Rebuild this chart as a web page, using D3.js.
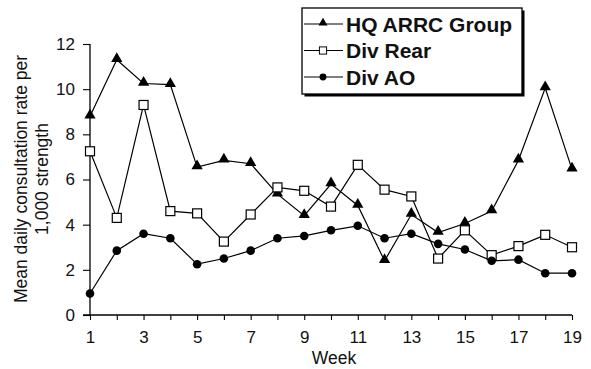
<!DOCTYPE html>
<html>
<head>
<meta charset="utf-8">
<script src="https://cdn.jsdelivr.net/npm/d3@7"></script>
<style>
  html, body { margin: 0; padding: 0; background: #fff; }
  svg { display: block; font-family: "Liberation Sans", Arial, sans-serif; }
</style>
</head>
<body>
<div id="chart"></div>
<script>
const weeks = [1, 2, 3, 4, 5, 6, 7, 8, 9, 10, 11, 12, 13, 14, 15, 16, 17, 18, 19];
const weekTicks = [1, 3, 5, 7, 9, 11, 13, 15, 17, 19];
const yTicks = [0, 2, 4, 6, 8, 10, 12];

const hqArrc = [8.8, 11.3, 10.25, 10.2, 6.55, 6.85, 6.7, 5.35, 4.4, 5.8, 4.85, 2.4, 4.45, 3.65, 4.05, 4.6, 6.85, 10.05, 6.45];
const divRear = [7.25, 4.3, 9.3, 4.6, 4.5, 3.25, 4.45, 5.65, 5.5, 4.8, 6.65, 5.55, 5.25, 2.5, 3.75, 2.65, 3.05, 3.55, 3.0];
const divAO = [0.95, 2.85, 3.6, 3.4, 2.25, 2.5, 2.85, 3.4, 3.5, 3.75, 3.95, 3.4, 3.6, 3.15, 2.9, 2.4, 2.45, 1.85, 1.85];

const seriesNames = ['HQ ARRC Group', 'Div Rear', 'Div AO'];

const width = 591, height = 369;
const margin = { top: 44, right: 19, bottom: 54, left: 90 };

const svg = d3.select('#chart').append('svg')
  .attr('width', width)
  .attr('height', height);

const x = d3.scaleLinear().domain([1, 19]).range([margin.left, width - margin.right]);
const y = d3.scaleLinear().domain([0, 12]).range([height - margin.bottom, margin.top]);

// axes
const xAxis = svg.append('g')
  .attr('transform', `translate(0,${y(0)})`)
  .call(d3.axisBottom(x).tickValues(weeks).tickSize(5).tickPadding(7).tickFormat(d => weekTicks.includes(d) ? d : ''));
xAxis.select('.domain').attr('d', `M${x(1) - 7},0H${x(19)}`);

const yAxis = svg.append('g')
  .attr('transform', `translate(${x(1)},0)`)
  .call(d3.axisLeft(y).tickValues(yTicks).tickSize(7).tickPadding(8));
yAxis.select('.domain').attr('d', `M0,${y(12)}V${y(0)}`);

svg.selectAll('.domain').attr('stroke', '#000').attr('stroke-width', 1.3);
svg.selectAll('.tick line').attr('stroke', '#000').attr('stroke-width', 1.1);
svg.selectAll('.tick text').attr('fill', '#111').style('font-size', '17px');
xAxis.selectAll('.tick text').attr('dy', '0.95em');

// axis titles
svg.append('text')
  .attr('x', (x(1) + x(19)) / 2 + 3)
  .attr('y', 364)
  .attr('text-anchor', 'middle')
  .style('font-size', '17.5px')
  .attr('fill', '#111')
  .text('Week');

const yTitle = svg.append('text')
  .attr('transform', 'translate(27,179) rotate(-90)')
  .attr('text-anchor', 'middle')
  .style('font-size', '17.5px')
  .attr('fill', '#111');
yTitle.append('tspan').attr('x', 0).attr('y', 0).text('Mean daily consultation rate per');
yTitle.append('tspan').attr('x', 0).attr('y', 21).text('1,000 strength');

// lines and markers
const line = d3.line()
  .x((d, i) => x(weeks[i]))
  .y(d => y(d));

const triangle = d3.symbol().type(d3.symbolTriangle).size(55);

function drawMarker(g, kind) {
  if (kind === 0) {
    g.append('path').attr('d', triangle).attr('fill', '#000');
  } else if (kind === 1) {
    g.append('rect').attr('x', -4.5).attr('y', -4.5).attr('width', 9).attr('height', 9)
      .attr('fill', '#fff').attr('stroke', '#000').attr('stroke-width', 1.2);
  } else {
    g.append('circle').attr('r', 4.3).attr('fill', '#000');
  }
}

[hqArrc, divRear, divAO].forEach(values => {
  svg.append('path')
    .datum(values)
    .attr('fill', 'none')
    .attr('stroke', '#000')
    .attr('stroke-width', 1.2)
    .attr('d', line);
});

[hqArrc, divRear, divAO].forEach((values, k) => {
  svg.selectAll(`g.m${k}`)
    .data(values)
    .join('g')
    .attr('class', `m${k}`)
    .attr('transform', (d, i) => `translate(${x(weeks[i])},${y(d) + (k === 0 ? -1 : 0)})`)
    .each(function () { drawMarker(d3.select(this), k); });
});

// legend
const legend = svg.append('g').attr('transform', 'translate(302,8)');
legend.append('rect')
  .attr('x', 2.5).attr('y', 2.5).attr('width', 220).attr('height', 86)
  .attr('fill', '#000');
legend.append('rect')
  .attr('x', 0).attr('y', 0).attr('width', 220).attr('height', 86)
  .attr('fill', '#fff').attr('stroke', '#000').attr('stroke-width', 1.3);

const rows = legend.selectAll('g.row')
  .data(seriesNames)
  .join('g')
  .attr('class', 'row')
  .attr('transform', (d, i) => `translate(0,${16 + i * 26.5})`);

rows.append('line')
  .attr('x1', 2).attr('x2', 41).attr('y1', 0).attr('y2', 0)
  .attr('stroke', '#000').attr('stroke-width', 1.2);
rows.append('g')
  .attr('transform', (d, i) => `translate(21,${i === 0 ? -1 : 0}) scale(0.8)`)
  .each(function (d, i) { drawMarker(d3.select(this), i); });
rows.append('text')
  .attr('x', 44)
  .attr('y', 7.5)
  .style('font-size', '21px')
  .style('font-weight', 'bold')
  .attr('fill', '#111')
  .text(d => d);
</script>
</body>
</html>
